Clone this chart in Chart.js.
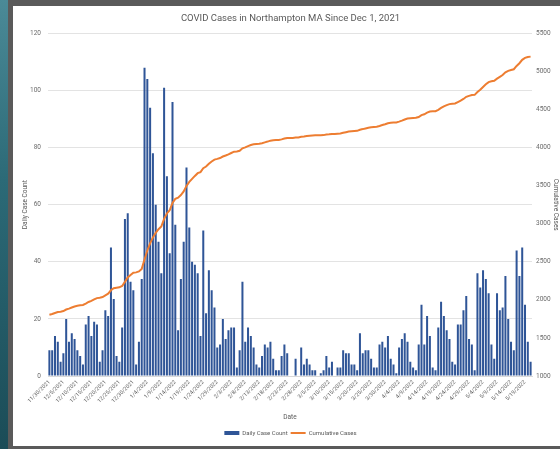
<!DOCTYPE html>
<html>
<head>
<meta charset="utf-8">
<script src="https://cdn.jsdelivr.net/npm/chart.js@4.4.1/dist/chart.umd.min.js"></script>
<style>
  html, body { margin: 0; padding: 0; }
  body { width: 560px; height: 449px; background: #5a5a5a; position: relative; overflow: hidden; }
  .strip { position: absolute; left: 0; top: 0; width: 8px; height: 449px;
           background: linear-gradient(#4b8a97, #2c6a77 40%, #1b4c57); }
  .panel { position: absolute; left: 13px; top: 6px; width: 547px; height: 440px; background: #fff; }
</style>
</head>
<body>
<div class="strip"></div>
<div class="panel"><canvas id="grafico" width="547" height="440"></canvas></div>
<script>
const titulo = 'COVID Cases in Northampton MA Since Dec 1, 2021';

// dias (11/30/2021 .. 5/21/2022)
const dias = [
  '11/30/2021',
  '12/1/2021','12/2/2021','12/3/2021','12/4/2021','12/5/2021','12/6/2021','12/7/2021','12/8/2021','12/9/2021','12/10/2021',
  '12/11/2021','12/12/2021','12/13/2021','12/14/2021','12/15/2021','12/16/2021','12/17/2021','12/18/2021','12/19/2021','12/20/2021',
  '12/21/2021','12/22/2021','12/23/2021','12/24/2021','12/25/2021','12/26/2021','12/27/2021','12/28/2021','12/29/2021','12/30/2021','12/31/2021',
  '1/1/2022','1/2/2022','1/3/2022','1/4/2022','1/5/2022','1/6/2022','1/7/2022','1/8/2022','1/9/2022','1/10/2022',
  '1/11/2022','1/12/2022','1/13/2022','1/14/2022','1/15/2022','1/16/2022','1/17/2022','1/18/2022','1/19/2022','1/20/2022',
  '1/21/2022','1/22/2022','1/23/2022','1/24/2022','1/25/2022','1/26/2022','1/27/2022','1/28/2022','1/29/2022','1/30/2022','1/31/2022',
  '2/1/2022','2/2/2022','2/3/2022','2/4/2022','2/5/2022','2/6/2022','2/7/2022','2/8/2022','2/9/2022','2/10/2022',
  '2/11/2022','2/12/2022','2/13/2022','2/14/2022','2/15/2022','2/16/2022','2/17/2022','2/18/2022','2/19/2022','2/20/2022',
  '2/21/2022','2/22/2022','2/23/2022','2/24/2022','2/25/2022','2/26/2022','2/27/2022','2/28/2022',
  '3/1/2022','3/2/2022','3/3/2022','3/4/2022','3/5/2022','3/6/2022','3/7/2022','3/8/2022','3/9/2022','3/10/2022',
  '3/11/2022','3/12/2022','3/13/2022','3/14/2022','3/15/2022','3/16/2022','3/17/2022','3/18/2022','3/19/2022','3/20/2022',
  '3/21/2022','3/22/2022','3/23/2022','3/24/2022','3/25/2022','3/26/2022','3/27/2022','3/28/2022','3/29/2022','3/30/2022','3/31/2022',
  '4/1/2022','4/2/2022','4/3/2022','4/4/2022','4/5/2022','4/6/2022','4/7/2022','4/8/2022','4/9/2022','4/10/2022',
  '4/11/2022','4/12/2022','4/13/2022','4/14/2022','4/15/2022','4/16/2022','4/17/2022','4/18/2022','4/19/2022','4/20/2022',
  '4/21/2022','4/22/2022','4/23/2022','4/24/2022','4/25/2022','4/26/2022','4/27/2022','4/28/2022','4/29/2022','4/30/2022',
  '5/1/2022','5/2/2022','5/3/2022','5/4/2022','5/5/2022','5/6/2022','5/7/2022','5/8/2022','5/9/2022','5/10/2022',
  '5/11/2022','5/12/2022','5/13/2022','5/14/2022','5/15/2022','5/16/2022','5/17/2022','5/18/2022','5/19/2022','5/20/2022','5/21/2022'
];

// casos por dia
const casosDiarios = [
  9, 9, 14, 12, 5, 8, 20, 12, 15, 13,
  9, 7, 4, 18, 21, 14, 19, 18, 5, 9,
  23, 21, 45, 27, 7, 5, 17, 55, 57, 33,
  30, 4, 12, 34, 108, 104, 94, 78, 60, 47,
  36, 101, 70, 43, 96, 53, 16, 34, 47, 73,
  52, 40, 39, 36, 14, 51, 22, 37, 30, 24,
  10, 11, 20, 13, 16, 17, 17, 3, 9, 33,
  12, 17, 14, 10, 4, 3, 7, 11, 10, 12,
  6, 2, 2, 7, 11, 8, 0, 0, 6, 0,
  10, 4, 6, 4, 2, 2, 0, 1, 2, 7,
  3, 5, 0, 3, 3, 9, 8, 8, 4, 4,
  2, 15, 8, 9, 9, 6, 3, 3, 11, 12,
  10, 14, 6, 4, 1, 10, 13, 15, 12, 5,
  3, 2, 11, 25, 11, 21, 14, 3, 2, 17,
  26, 21, 16, 13, 5, 4, 18, 18, 23, 28,
  13, 11, 2, 36, 31, 37, 34, 29, 11, 6,
  29, 23, 24, 35, 20, 12, 9, 44, 35, 45,
  25, 12, 5
];

// casos acumulados (eixo da direita)
const casosAcumulados = [
  1805, 1814, 1828, 1840, 1845, 1853, 1873, 1885, 1900, 1913,
  1922, 1929, 1933, 1951, 1972, 1986, 2005, 2023, 2028, 2037,
  2060, 2081, 2126, 2153, 2160, 2165, 2182, 2237, 2294, 2327,
  2357, 2361, 2373, 2407, 2530, 2649, 2743, 2821, 2881, 2928,
  2964, 3065, 3135, 3178, 3274, 3327, 3343, 3377, 3424, 3497,
  3549, 3589, 3628, 3664, 3678, 3729, 3751, 3788, 3818, 3842,
  3852, 3863, 3883, 3896, 3912, 3929, 3946, 3949, 3958, 3991,
  4003, 4020, 4034, 4044, 4048, 4051, 4058, 4069, 4079, 4091,
  4097, 4099, 4101, 4108, 4119, 4127, 4127, 4127, 4133, 4133,
  4143, 4147, 4153, 4157, 4159, 4161, 4161, 4162, 4164, 4171,
  4174, 4179, 4179, 4182, 4185, 4194, 4202, 4210, 4214, 4218,
  4220, 4235, 4243, 4252, 4261, 4267, 4270, 4273, 4284, 4296,
  4306, 4320, 4326, 4330, 4331, 4341, 4354, 4369, 4381, 4386,
  4389, 4391, 4402, 4427, 4438, 4459, 4473, 4476, 4478, 4495,
  4521, 4542, 4558, 4571, 4576, 4580, 4598, 4616, 4639, 4667,
  4680, 4691, 4693, 4729, 4760, 4797, 4831, 4860, 4871, 4877,
  4906, 4929, 4953, 4988, 5008, 5020, 5029, 5073, 5108, 5153,
  5178, 5190, 5195
];

const fonte = "'Roboto', sans-serif";
const cinza = '#595959';

const ctx = document.getElementById('grafico').getContext('2d');
const meuGrafico = new Chart(ctx, {
    data: {
        labels: dias,
        datasets: [
            {
                type: 'bar',
                label: 'Daily Case Count',
                data: casosDiarios,
                backgroundColor: '#2f5597',
                barPercentage: 0.72,
                categoryPercentage: 1,
                yAxisID: 'y',
                order: 2,
                pointStyle: 'rect'
            },
            {
                type: 'line',
                label: 'Cumulative Cases',
                data: casosAcumulados,
                borderColor: '#ed7d31',
                backgroundColor: '#ed7d31',
                borderWidth: 2,
                pointRadius: 0,
                tension: 0,
                yAxisID: 'y1',
                order: 1,
                pointStyle: 'line'
            }
        ]
    },
    options: {
        responsive: false,
        animation: false,
        layout: { padding: { left: 8, right: 0, top: 0, bottom: 0 } },
        scales: {
            x: {
                grid: { display: false, drawTicks: false },
                border: { color: '#d9d9d9' },
                ticks: {
                    autoSkip: false,
                    minRotation: 45,
                    maxRotation: 45,
                    padding: 3,
                    color: '#6b6b6b',
                    font: { family: fonte, size: 5.5 },
                    callback: (v, i) => (i % 5 === 0 ? dias[i] : '')
                },
                title: { display: true, text: 'Date', color: cinza, font: { family: fonte, size: 6.5 }, padding: { top: 2, bottom: 6 } },
                afterFit: (s) => { s.height = 51; }
            },
            y: {
                position: 'left',
                min: 0, max: 120,
                ticks: { stepSize: 20, color: '#6b6b6b', padding: 7, font: { family: fonte, size: 6.5 } },
                grid: { color: '#e3e3e3', drawTicks: false },
                border: { display: false },
                title: { display: true, text: 'Daily Case Count', color: cinza, font: { family: fonte, size: 6.5 }, padding: 0 },
                afterFit: (s) => { s.width = 27; }
            },
            y1: {
                position: 'right',
                min: 1000, max: 5500,
                ticks: {
                    stepSize: 500, color: '#6b6b6b', padding: 4, font: { family: fonte, size: 6.5 },
                    callback: (v) => String(v)
                },
                grid: { display: false, drawTicks: false },
                border: { display: false },
                title: { display: true, text: 'Cumulative Cases', color: cinza, font: { family: fonte, size: 6.5 }, padding: 0 },
                afterFit: (s) => { s.width = 28; }
            }
        },
        plugins: {
            title: {
                display: true,
                text: titulo,
                color: cinza,
                font: { family: fonte, size: 9.5, weight: 'normal' },
                padding: { top: 7, bottom: 9 }
            },
            legend: {
                position: 'bottom',
                labels: {
                    usePointStyle: true,
                    pointStyleWidth: 15,
                    boxHeight: 4,
                    padding: 3,
                    color: cinza,
                    font: { family: fonte, size: 6 },
                    sort: (a, b) => a.datasetIndex - b.datasetIndex
                }
            },
            tooltip: { enabled: false }
        }
    }
});
</script>
</body>
</html>
